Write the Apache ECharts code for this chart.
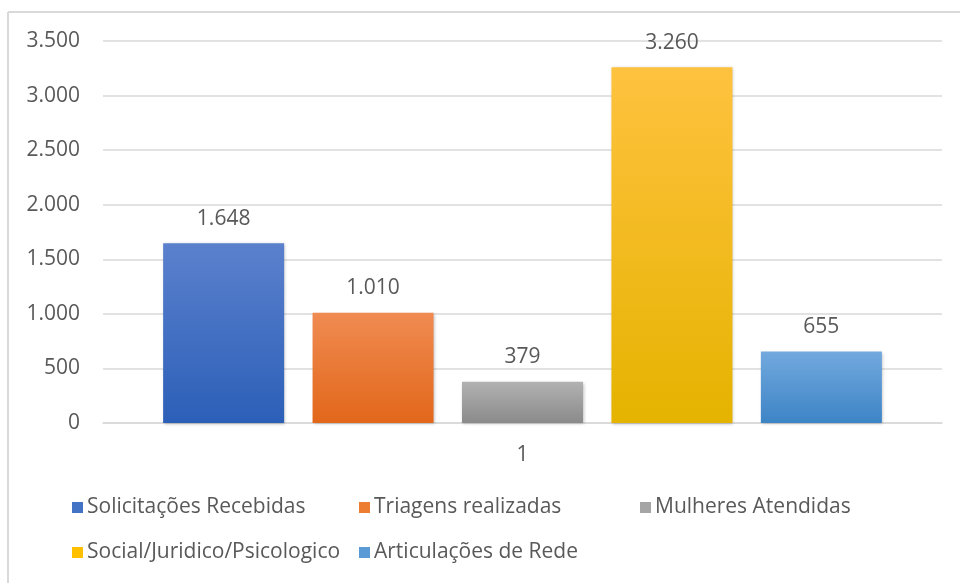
<!DOCTYPE html>
<html>
<head>
<meta charset="utf-8">
<script src="https://cdn.jsdelivr.net/npm/echarts@6/dist/echarts.min.js"></script>
<style>
html,body{margin:0;padding:0;background:#fff;}
#c{width:960px;height:583px;}
</style>
</head>
<body>
<div id="c"></div>
<script>
var categories = ['1'];
var seriesNames = ['Solicitações Recebidas', 'Triagens realizadas', 'Mulheres Atendidas', 'Social/Juridico/Psicologico', 'Articulações de Rede'];
var seriesValues = [[1648], [1010], [379], [3260], [655]];
var yTicks = [0, 500, 1000, 1500, 2000, 2500, 3000, 3500];

var gradTop = ['#5b81cd', '#f08b52', '#b2b2b2', '#ffc23f', '#72a9de'];
var gradBot = ['#2c5fb8', '#e2671a', '#8a8a8a', '#e5b300', '#3d84c6'];
var legendColor = ['#4472c4', '#ed7d31', '#a5a5a5', '#ffc000', '#5b9bd5'];
var legendPos = [[72, 497], [359, 497], [640, 497], [72, 542], [359, 542]];

function fmt(v) {
  return String(v).replace(/\B(?=(\d{3})+(?!\d))/g, '.');
}

var txt = '#595959';
var font = 'Open Sans';
var fs = 21;

var series = seriesNames.map(function (n, i) {
  return {
    name: n,
    type: 'bar',
    data: seriesValues[i],
    barWidth: 121,
    barGap: '23.5%',
    itemStyle: {
      color: new echarts.graphic.LinearGradient(0, 0, 0, 1, [
        {offset: 0, color: gradTop[i]},
        {offset: 1, color: gradBot[i]}
      ]),
      shadowColor: 'rgba(0,0,0,0.25)',
      shadowBlur: 3,
      shadowOffsetX: 1,
      shadowOffsetY: 1
    },
    label: {
      show: true,
      position: 'top',
      distance: 14,
      color: txt,
      fontFamily: font,
      fontSize: fs,
      formatter: function (p) { return fmt(p.value); }
    }
  };
});

var legends = seriesNames.map(function (n, i) {
  return {
    data: [{name: n, itemStyle: {color: legendColor[i]}}],
    left: legendPos[i][0],
    top: legendPos[i][1],
    icon: 'rect',
    itemWidth: 11,
    itemHeight: 11,
    itemGap: 0,
    padding: 0,
    textStyle: {color: txt, fontFamily: font, fontSize: fs, padding: [0, 0, 0, -1]},
    selectedMode: false
  };
});

var chart = echarts.init(document.getElementById('c'), null, {renderer: 'canvas'});
chart.setOption({
  animation: false,
  backgroundColor: '#fff',
  graphic: [
    {type: 'line', shape: {x1: 8, y1: 12, x2: 960, y2: 12}, style: {stroke: '#d9d9d9', lineWidth: 2}},
    {type: 'line', shape: {x1: 8, y1: 12, x2: 8, y2: 583}, style: {stroke: '#d9d9d9', lineWidth: 2}}
  ],
  grid: {left: 103, right: 18, top: 41, bottom: 160, containLabel: false},
  legend: legends,
  xAxis: {
    type: 'category',
    data: categories,
    axisLine: {show: true, lineStyle: {color: '#d9d9d9', width: 1.5}},
    axisTick: {show: false},
    axisLabel: {color: txt, fontFamily: font, fontSize: fs, margin: 22}
  },
  yAxis: {
    type: 'value',
    min: yTicks[0],
    max: yTicks[yTicks.length - 1],
    interval: 500,
    axisLine: {show: false},
    axisTick: {show: false},
    splitLine: {lineStyle: {color: '#d9d9d9', width: 1.5}},
    axisLabel: {
      color: txt, fontFamily: font, fontSize: fs, margin: 23,
      formatter: function (v) { return fmt(v); }
    }
  },
  series: series
});
</script>
</body>
</html>
